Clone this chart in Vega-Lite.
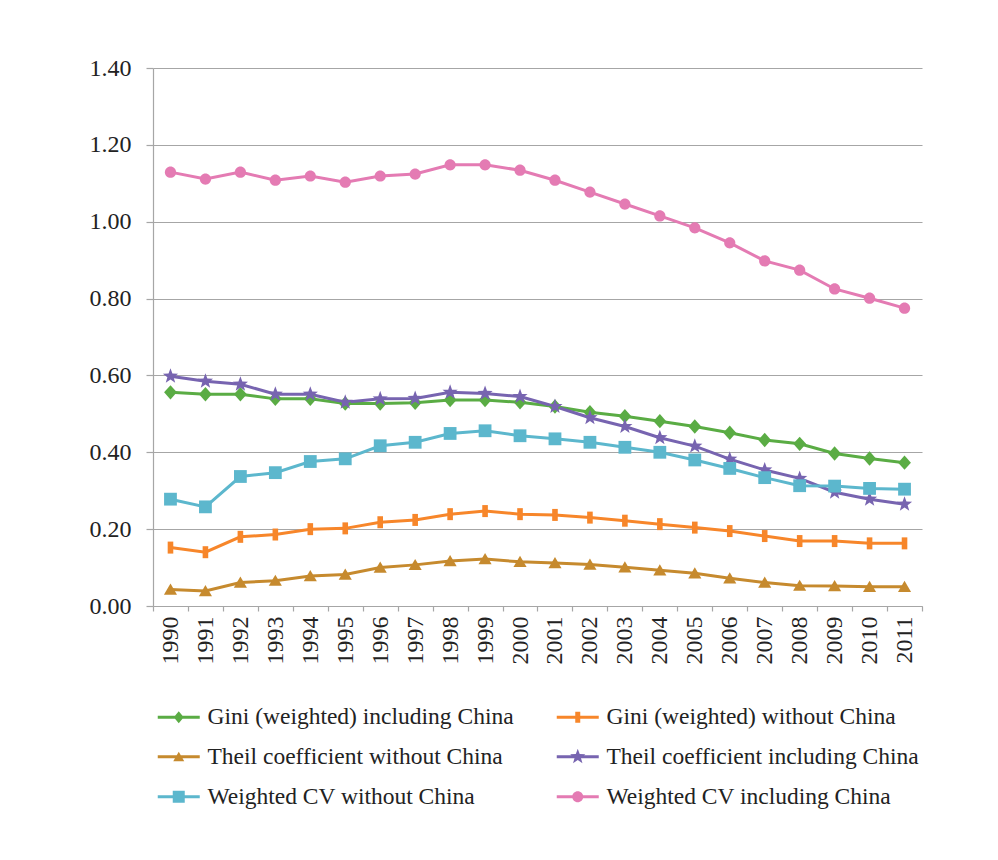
{
  "$schema": "https://vega.github.io/schema/vega-lite/v6.json",
  "width": 769,
  "height": 538,
  "autosize": {"type": "none"},
  "padding": {"left": 153, "top": 68, "right": 76, "bottom": 254},
  "background": "white",
  "config": {
    "font": "Liberation Serif",
    "view": {"stroke": null},
    "axis": {"labelFont": "Liberation Serif", "labelColor": "#222222", "domainColor": "#a6a6a6", "tickColor": "#a6a6a6", "gridColor": "#a6a6a6", "domainWidth": 1.2, "tickWidth": 1.2, "gridWidth": 1.2},
    "legend": {"labelFont": "Liberation Serif", "labelFontSize": 23.5, "labelColor": "#222222", "labelLimit": 500, "symbolSize": 400, "labelOffset": 17, "rowPadding": 15, "columnPadding": 42, "symbolOpacity": 1, "symbolStrokeWidth": 0}
  },
  "datasets": {
    "ineq": [
      {"year": "1990", "Gini (weighted) including China": 0.556, "Gini (weighted) without China": 0.152, "Theil coefficient without China": 0.043, "Theil coefficient including China": 0.598, "Weighted CV without China": 0.278, "Weighted CV including China": 1.129},
      {"year": "1991", "Gini (weighted) including China": 0.551, "Gini (weighted) without China": 0.140, "Theil coefficient without China": 0.039, "Theil coefficient including China": 0.585, "Weighted CV without China": 0.258, "Weighted CV including China": 1.111},
      {"year": "1992", "Gini (weighted) including China": 0.551, "Gini (weighted) without China": 0.180, "Theil coefficient without China": 0.061, "Theil coefficient including China": 0.577, "Weighted CV without China": 0.337, "Weighted CV including China": 1.129},
      {"year": "1993", "Gini (weighted) including China": 0.539, "Gini (weighted) without China": 0.186, "Theil coefficient without China": 0.066, "Theil coefficient including China": 0.551, "Weighted CV without China": 0.347, "Weighted CV including China": 1.108},
      {"year": "1994", "Gini (weighted) including China": 0.539, "Gini (weighted) without China": 0.200, "Theil coefficient without China": 0.078, "Theil coefficient including China": 0.551, "Weighted CV without China": 0.376, "Weighted CV including China": 1.119},
      {"year": "1995", "Gini (weighted) including China": 0.527, "Gini (weighted) without China": 0.202, "Theil coefficient without China": 0.082, "Theil coefficient including China": 0.530, "Weighted CV without China": 0.383, "Weighted CV including China": 1.103},
      {"year": "1996", "Gini (weighted) including China": 0.527, "Gini (weighted) without China": 0.218, "Theil coefficient without China": 0.100, "Theil coefficient including China": 0.539, "Weighted CV without China": 0.417, "Weighted CV including China": 1.119},
      {"year": "1997", "Gini (weighted) including China": 0.529, "Gini (weighted) without China": 0.224, "Theil coefficient without China": 0.107, "Theil coefficient including China": 0.540, "Weighted CV without China": 0.426, "Weighted CV including China": 1.124},
      {"year": "1998", "Gini (weighted) including China": 0.536, "Gini (weighted) without China": 0.239, "Theil coefficient without China": 0.117, "Theil coefficient including China": 0.556, "Weighted CV without China": 0.449, "Weighted CV including China": 1.148},
      {"year": "1999", "Gini (weighted) including China": 0.536, "Gini (weighted) without China": 0.247, "Theil coefficient without China": 0.122, "Theil coefficient including China": 0.553, "Weighted CV without China": 0.456, "Weighted CV including China": 1.148},
      {"year": "2000", "Gini (weighted) including China": 0.530, "Gini (weighted) without China": 0.239, "Theil coefficient without China": 0.115, "Theil coefficient including China": 0.545, "Weighted CV without China": 0.443, "Weighted CV including China": 1.134},
      {"year": "2001", "Gini (weighted) including China": 0.519, "Gini (weighted) without China": 0.237, "Theil coefficient without China": 0.112, "Theil coefficient including China": 0.519, "Weighted CV without China": 0.435, "Weighted CV including China": 1.108},
      {"year": "2002", "Gini (weighted) including China": 0.504, "Gini (weighted) without China": 0.230, "Theil coefficient without China": 0.108, "Theil coefficient including China": 0.490, "Weighted CV without China": 0.426, "Weighted CV including China": 1.077},
      {"year": "2003", "Gini (weighted) including China": 0.494, "Gini (weighted) without China": 0.222, "Theil coefficient without China": 0.101, "Theil coefficient including China": 0.467, "Weighted CV without China": 0.413, "Weighted CV including China": 1.046},
      {"year": "2004", "Gini (weighted) including China": 0.481, "Gini (weighted) without China": 0.213, "Theil coefficient without China": 0.093, "Theil coefficient including China": 0.438, "Weighted CV without China": 0.400, "Weighted CV including China": 1.015},
      {"year": "2005", "Gini (weighted) including China": 0.467, "Gini (weighted) without China": 0.204, "Theil coefficient without China": 0.085, "Theil coefficient including China": 0.416, "Weighted CV without China": 0.380, "Weighted CV including China": 0.984},
      {"year": "2006", "Gini (weighted) including China": 0.451, "Gini (weighted) without China": 0.195, "Theil coefficient without China": 0.072, "Theil coefficient including China": 0.382, "Weighted CV without China": 0.358, "Weighted CV including China": 0.945},
      {"year": "2007", "Gini (weighted) including China": 0.432, "Gini (weighted) without China": 0.182, "Theil coefficient without China": 0.061, "Theil coefficient including China": 0.354, "Weighted CV without China": 0.334, "Weighted CV including China": 0.898},
      {"year": "2008", "Gini (weighted) including China": 0.422, "Gini (weighted) without China": 0.169, "Theil coefficient without China": 0.053, "Theil coefficient including China": 0.332, "Weighted CV without China": 0.313, "Weighted CV including China": 0.874},
      {"year": "2009", "Gini (weighted) including China": 0.397, "Gini (weighted) without China": 0.169, "Theil coefficient without China": 0.052, "Theil coefficient including China": 0.296, "Weighted CV without China": 0.312, "Weighted CV including China": 0.825},
      {"year": "2010", "Gini (weighted) including China": 0.384, "Gini (weighted) without China": 0.163, "Theil coefficient without China": 0.050, "Theil coefficient including China": 0.278, "Weighted CV without China": 0.306, "Weighted CV including China": 0.801},
      {"year": "2011", "Gini (weighted) including China": 0.373, "Gini (weighted) without China": 0.163, "Theil coefficient without China": 0.050, "Theil coefficient including China": 0.265, "Weighted CV without China": 0.304, "Weighted CV including China": 0.775}
    ]
  },
  "data": {"name": "ineq"},
  "transform": [
    {"fold": ["Gini (weighted) including China", "Gini (weighted) without China", "Theil coefficient without China", "Theil coefficient including China", "Weighted CV without China", "Weighted CV including China"], "as": ["series", "value"]}
  ],
  "encoding": {
    "x": {
      "field": "year", "type": "ordinal", "title": null,
      "scale": {"type": "band", "paddingInner": 0, "paddingOuter": 0},
      "axis": {"labelAngle": 270, "labelAlign": "right", "labelBaseline": "middle", "labelFontSize": 24, "labelPadding": 5, "tickSize": 5, "tickBand": "extent", "grid": false}
    },
    "y": {
      "field": "value", "type": "quantitative", "title": null,
      "scale": {"domain": [0, 1.4], "nice": false, "zero": true},
      "axis": {"values": [0, 0.2, 0.4, 0.6, 0.8, 1.0, 1.2, 1.4], "format": ".2f", "labelFontSize": 24, "labelPadding": 15, "tickSize": 7, "grid": true}
    }
  },
  "layer": [
    {
      "mark": {"type": "line", "strokeWidth": 3},
      "encoding": {
        "color": {
          "field": "series", "type": "nominal", "legend": null,
          "scale": {
            "domain": ["Gini (weighted) including China", "Gini (weighted) without China", "Theil coefficient without China", "Theil coefficient including China", "Weighted CV without China", "Weighted CV including China"],
            "range": ["#5aac44", "#f7862a", "#c68a2e", "#7764b0", "#5cb7cd", "#e47bb3"]
          }
        }
      }
    },
    {
      "mark": {"type": "point", "filled": true, "opacity": 1, "size": 256, "strokeWidth": 0},
      "encoding": {
        "color": {"field": "series", "type": "nominal", "legend": null},
        "shape": {
          "field": "series", "type": "nominal", "legend": null,
          "scale": {
            "domain": ["Gini (weighted) including China", "Gini (weighted) without China", "Theil coefficient without China", "Theil coefficient including China", "Weighted CV without China", "Weighted CV including China"],
            "range": ["M0,-0.9L0.8,0L0,0.9L-0.8,0Z", "M-0.35,-0.75H0.35V0.75H-0.35Z", "M0,-0.75L0.82,0.65L-0.82,0.65Z", "M0,-1L0.241,-0.331L0.951,-0.309L0.389,0.126L0.588,0.809L0,0.409L-0.588,0.809L-0.389,0.126L-0.951,-0.309L-0.241,-0.331Z", "M-0.8,-0.8H0.8V0.8H-0.8Z", "M-0.7,0A0.7,0.7,0,1,1,0.7,0A0.7,0.7,0,1,1,-0.7,0Z"]
          }
        }
      }
    },
    {
      "mark": {"type": "point", "filled": true, "opacity": 0, "size": 400, "strokeWidth": 0},
      "encoding": {
        "color": {
          "field": "series", "type": "nominal",
          "legend": {"title": null, "orient": "none", "legendX": 14, "legendY": 637, "columns": 2, "direction": "horizontal", "symbolOpacity": 1, "symbolSize": 400}
        },
        "shape": {
          "field": "series", "type": "nominal",
          "legend": {"title": null, "orient": "none", "legendX": 14, "legendY": 637, "columns": 2, "direction": "horizontal", "symbolOpacity": 1, "symbolSize": 400},
          "scale": {
            "domain": ["Gini (weighted) including China", "Gini (weighted) without China", "Theil coefficient without China", "Theil coefficient including China", "Weighted CV without China", "Weighted CV including China"],
            "range": ["M-2.1,-0.15H2.1V0.15H-2.1Z M0,-0.6L0.5,0L0,0.6L-0.5,0Z", "M-2.1,-0.15H2.1V0.15H-2.1Z M-0.25,-0.55H0.25V0.55H-0.25Z", "M-2.1,-0.15H2.1V0.15H-2.1Z M0,-0.5L0.55,0.45L-0.55,0.45Z", "M-2.1,-0.15H2.1V0.15H-2.1Z M0,-0.8L0.194,-0.266L0.761,-0.247L0.311,0.101L0.47,0.647L0,0.327L-0.47,0.647L-0.311,0.101L-0.761,-0.247L-0.194,-0.266Z", "M-2.1,-0.15H2.1V0.15H-2.1Z M-0.6,-0.6H0.6V0.6H-0.6Z", "M-2.1,-0.15H2.1V0.15H-2.1Z M-0.55,0A0.55,0.55,0,1,1,0.55,0A0.55,0.55,0,1,1,-0.55,0Z"]
          }
        }
      }
    }
  ],
  "resolve": {"scale": {"shape": "independent"}, "legend": {"color": "independent", "shape": "independent"}}
}
